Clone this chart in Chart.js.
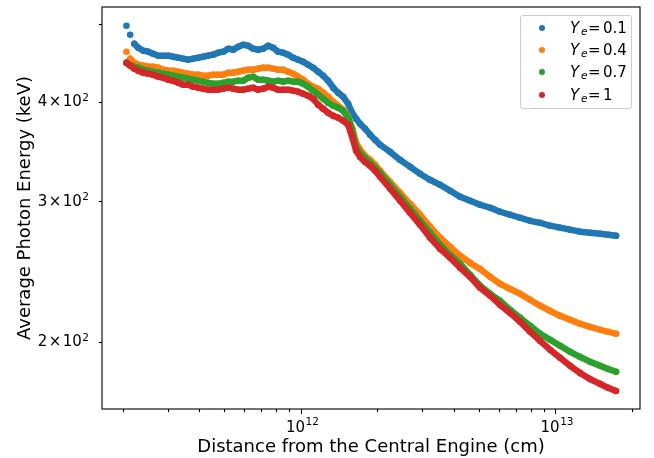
<!DOCTYPE html>
<html>
<head>
<meta charset="utf-8">
<script src="https://cdn.jsdelivr.net/npm/chart.js@4.4.1/dist/chart.umd.min.js"></script>
<style>
  html, body { margin: 0; padding: 0; background: #fff; }
  #wrap { position: relative; width: 654px; height: 458px; }
  #legend {
    position: absolute; left: 520px; top: 15px; width: 112px; height: 94px;
    box-sizing: border-box; border: 1px solid #cccccc; border-radius: 3px;
    background: rgba(255,255,255,0.8); padding-top: 1px;
    font-family: "DejaVu Sans"; font-size: 15px; color: #000;
  }
  .row { position: relative; height: 22.2px; line-height: 22.2px; white-space: nowrap; }
  .row span { position: absolute; top: 0; }
  .dot { left: 18px; top: 8.1px !important; width: 6px; height: 6px; border-radius: 50%; }
  .sym { left: 49px; font-style: italic; }
  .sub { left: 60px; font-size: 10.5px; font-style: italic; top: 3px !important; }
  .eq { left: 67px; }
  .val { left: 82px; }
</style>
</head>
<body>
<div id="wrap">
  <canvas id="c" width="654" height="458"></canvas>
  <div id="legend"></div>
</div>
<script>
// distance from the central engine (cm), shared by all four runs
const distanceCm = [
  2.06e11, 2.13e11, 2.21e11, 2.29e11, 2.40e11, 2.51e11, 2.62e11, 2.75e11,
  2.87e11, 3.01e11, 3.14e11, 3.29e11, 3.44e11, 3.60e11, 3.77e11, 3.94e11,
  4.12e11, 4.31e11, 4.51e11, 4.72e11, 4.94e11, 5.17e11, 5.41e11, 5.66e11,
  5.92e11, 6.19e11, 6.48e11, 6.78e11, 7.09e11, 7.42e11, 7.76e11, 8.12e11,
  8.50e11, 8.89e11, 9.30e11, 9.73e11,
  1.018e12, 1.065e12, 1.115e12, 1.166e12, 1.220e12, 1.276e12, 1.336e12, 1.397e12,
  1.462e12, 1.529e12, 1.585e12, 1.644e12, 1.704e12, 1.783e12, 1.866e12, 1.952e12,
  2.042e12, 2.236e12, 2.447e12, 2.679e12, 2.932e12, 3.210e12, 3.514e12, 3.846e12,
  4.210e12, 4.608e12, 5.044e12, 5.523e12, 6.045e12, 6.616e12, 7.242e12, 7.928e12,
  8.678e12, 9.497e12, 1.040e13, 1.138e13, 1.245e13, 1.363e13, 1.493e13, 1.605e13, 1.725e13
];

// average photon energy (keV)
const energyYe01 = [
  498.6, 485.8, 473.4, 467.9, 463.9, 462.6, 459.9, 457.3,
  457.3, 457.3, 455.9, 454.6, 453.3, 452.0, 453.3, 454.6,
  455.9, 457.3, 458.6, 461.2, 462.6, 466.6, 465.2, 469.3,
  472.0, 470.6, 466.6, 465.2, 466.6, 470.6, 467.9, 462.6,
  461.2, 458.6, 454.6, 452.0,
  449.4, 445.5, 441.7, 436.6, 431.6, 425.4, 416.9, 410.9,
  406.2, 398.0, 387.8, 381.2, 375.6, 370.3, 363.9, 358.6,
  353.6, 346.4, 338.5, 331.8, 325.1, 319.5, 315.0, 309.6,
  304.3, 300.8, 297.4, 294.8, 291.4, 288.9, 286.4, 283.9,
  282.3, 279.9, 278.3, 276.7, 275.1, 274.3, 273.5, 272.7, 271.9
];
const energyYe04 = [
  462.6, 453.3, 448.1, 445.5, 444.2, 443.0, 443.0, 441.7,
  439.1, 437.9, 437.9, 436.6, 435.3, 434.1, 432.8, 432.8,
  431.6, 431.6, 432.8, 432.8, 432.8, 435.3, 435.3, 436.6,
  437.9, 439.1, 439.1, 440.4, 441.7, 441.7, 440.4, 439.1,
  439.1, 436.6, 434.1, 430.3,
  426.6, 421.7, 418.1, 415.7, 410.9, 406.2, 400.3, 395.7,
  391.1, 383.4, 371.3, 355.6, 348.4, 342.4, 338.5, 333.7,
  328.0, 317.7, 307.8, 298.2, 288.9, 279.0, 270.4, 263.3,
  256.7, 251.4, 247.1, 241.5, 236.7, 233.2, 230.0, 226.0,
  222.2, 218.9, 215.8, 213.4, 210.9, 209.0, 207.3, 206.1, 204.9
];
const energyYe07 = [
  448.1, 445.5, 443.0, 441.7, 439.1, 437.9, 436.6, 435.3,
  434.1, 432.8, 431.6, 430.3, 429.1, 427.9, 426.6, 425.4,
  424.2, 422.9, 421.7, 421.7, 422.9, 424.2, 424.2, 425.4,
  425.4, 429.1, 430.3, 426.6, 426.6, 425.4, 424.2, 425.4,
  424.2, 425.4, 424.2, 424.2,
  421.7, 418.1, 413.3, 408.5, 403.8, 399.2, 395.7, 393.4,
  390.0, 382.2, 369.1, 351.5, 345.4, 340.4, 335.7, 330.8,
  326.0, 315.0, 304.3, 293.9, 283.9, 274.3, 264.9, 257.3,
  250.8, 242.9, 235.4, 230.0, 225.3, 219.6, 214.6, 209.7,
  204.9, 201.4, 197.9, 194.5, 191.7, 189.0, 186.8, 185.1, 183.6
];
const energyYe1 = [
  448.1, 444.2, 440.4, 437.9, 435.3, 434.1, 432.8, 430.3,
  429.1, 426.6, 425.4, 422.9, 420.5, 420.5, 418.1, 416.9,
  415.7, 414.5, 414.5, 414.5, 415.7, 416.9, 415.7, 414.5,
  414.5, 415.7, 416.9, 414.5, 415.7, 418.1, 416.9, 414.5,
  414.5, 414.5, 413.3, 412.1,
  409.7, 407.3, 403.8, 396.9, 392.3, 387.8, 384.4, 382.2,
  379.0, 374.6, 361.8, 347.5, 341.4, 336.5, 332.7, 328.0,
  322.4, 311.4, 300.8, 290.5, 280.6, 270.4, 261.8, 255.2,
  247.9, 241.5, 234.0, 228.7, 222.7, 217.6, 212.1, 206.1,
  200.7, 195.7, 191.2, 186.8, 183.0, 179.8, 177.3, 175.3, 173.7
];

const yeValues = ['0.1', '0.4', '0.7', '1'];
const colors = ['#1f77b4', '#ff7f0e', '#2ca02c', '#d62728'];

// tick marks; labels are mantissa x 10^exponent
const xTickValues = [2e11, 3e11, 4e11, 5e11, 6e11, 7e11, 8e11, 9e11, 1e12,
  2e12, 3e12, 4e12, 5e12, 6e12, 7e12, 8e12, 9e12, 1e13, 2e13];
const xMajorValues = [1e12, 1e13];
const xMajorExps = ['12', '13'];
const yTickValues = [200, 300, 400, 500];
const yTickMantissas = ['2', '3', '4', null];
const yTickExp = '2';

const series = [energyYe01, energyYe04, energyYe07, energyYe1];
// the first few dots stand apart, so don't join them up
const looseStart = [2, 1, 0, 0];

const FONT = '"DejaVu Sans"';
const isMajorX = v => xMajorValues.indexOf(v) >= 0;

const datasets = series.map((ys, k) => ({
  label: 'Ye = ' + yeValues[k],
  data: distanceCm.map((x, i) => ({ x, y: ys[i] })),
  showLine: true,
  borderColor: colors[k],
  backgroundColor: colors[k],
  borderWidth: 6.4,
  borderCapStyle: 'round',
  borderJoinStyle: 'round',
  pointRadius: 3.3,
  pointHoverRadius: 3.3,
  pointBorderWidth: 0,
  order: 4 - k,
  segment: { borderColor: c => c.p0DataIndex < looseStart[k] ? 'rgba(0,0,0,0)' : undefined }
}));

const framePlugin = {
  id: 'frame',
  afterDatasetsDraw(chart) {
    const { ctx, chartArea: a } = chart;
    ctx.save();
    ctx.strokeStyle = '#000';
    ctx.lineWidth = 1.1;
    ctx.strokeRect(a.left, a.top, a.right - a.left, a.bottom - a.top);
    ctx.restore();
  }
};

// tick labels with a proper raised exponent, like mathtext
const mathTicks = {
  id: 'mathTicks',
  afterDraw(chart) {
    const { ctx } = chart;
    const xs = chart.scales.x, ys = chart.scales.y;
    ctx.save();
    ctx.fillStyle = '#000';
    ctx.textBaseline = 'alphabetic';
    ctx.textAlign = 'left';

    yTickValues.forEach((v, i) => {
      if (!yTickMantissas[i]) return;
      const py = ys.getPixelForValue(v);
      const right = ys.right - 13;
      const base = yTickMantissas[i] + '\u200a\u00d7\u200a10';
      ctx.font = '10.5px ' + FONT;
      const supW = ctx.measureText(yTickExp).width;
      ctx.font = '15px ' + FONT;
      const baseW = ctx.measureText(base).width;
      ctx.fillText(base, right - supW - baseW - 0.5, py + 4);
      ctx.font = '10.5px ' + FONT;
      ctx.fillText(yTickExp, right - supW, py - 1.5);
    });

    xMajorValues.forEach((v, i) => {
      const px = xs.getPixelForValue(v);
      const baseY = xs.top + 22.7;
      ctx.font = '15px ' + FONT;
      const baseW = ctx.measureText('10').width;
      ctx.font = '10.5px ' + FONT;
      const supW = ctx.measureText(xMajorExps[i]).width;
      const left = px - (baseW + supW) / 2 + 1;
      ctx.font = '15px ' + FONT;
      ctx.fillText('10', left, baseY);
      ctx.font = '10.5px ' + FONT;
      ctx.fillText(xMajorExps[i], left + baseW + 0.5, baseY - 7);
    });
    ctx.restore();
  }
};

new Chart(document.getElementById('c').getContext('2d'), {
  type: 'scatter',
  data: { datasets },
  options: {
    responsive: false,
    animation: false,
    events: [],
    layout: { padding: { left: 0, top: 7, right: 14, bottom: 0 } },
    plugins: { legend: { display: false }, tooltip: { enabled: false } },
    scales: {
      x: {
        type: 'logarithmic', min: 1.651e11, max: 2.142e13, bounds: 'data',
        afterBuildTicks: s => { s.ticks = xTickValues.map(v => ({ value: v, major: isMajorX(v) })); },
        afterFit: s => { s.height = 49; s.paddingLeft = 0; s.paddingRight = 0; },
        ticks: { autoSkip: false, maxRotation: 0, minRotation: 0, display: false },
        grid: {
          drawOnChartArea: false, tickLength: 5, tickColor: '#000', tickWidth: 1.1,
          tickBorderDash: c => (c.tick && isMajorX(c.tick.value)) ? [] : [3, 20]
        },
        border: { display: false },
        title: {
          display: true, text: 'Distance from the Central Engine (cm)', color: '#000',
          font: { family: 'DejaVu Sans', size: 18 }, padding: { top: 0, bottom: 0 }
        }
      },
      y: {
        type: 'logarithmic', min: 164.9, max: 526.3, bounds: 'data',
        afterBuildTicks: s => { s.ticks = yTickValues.map(v => ({ value: v })); },
        afterFit: s => { s.width = 102; s.paddingTop = 0; s.paddingBottom = 0; },
        ticks: { autoSkip: false, display: false },
        grid: { drawOnChartArea: false, tickLength: 3, tickColor: '#000', tickWidth: 1.1 },
        border: { display: false },
        title: {
          display: true, text: 'Average Photon Energy (keV)', color: '#000',
          font: { family: 'DejaVu Sans', size: 18 }, padding: { top: 14.6, bottom: 0 }
        }
      }
    }
  },
  plugins: [framePlugin, mathTicks]
});

// legend inside the axes, upper right
const legend = document.getElementById('legend');
yeValues.forEach((v, k) => {
  const row = document.createElement('div');
  row.className = 'row';
  row.innerHTML = '<span class="dot" style="background:' + colors[k] + '"></span>' +
    '<span class="sym">Y</span><span class="sub">e</span>' +
    '<span class="eq">=</span><span class="val">' + v + '</span>';
  legend.appendChild(row);
});
</script>
</body>
</html>
